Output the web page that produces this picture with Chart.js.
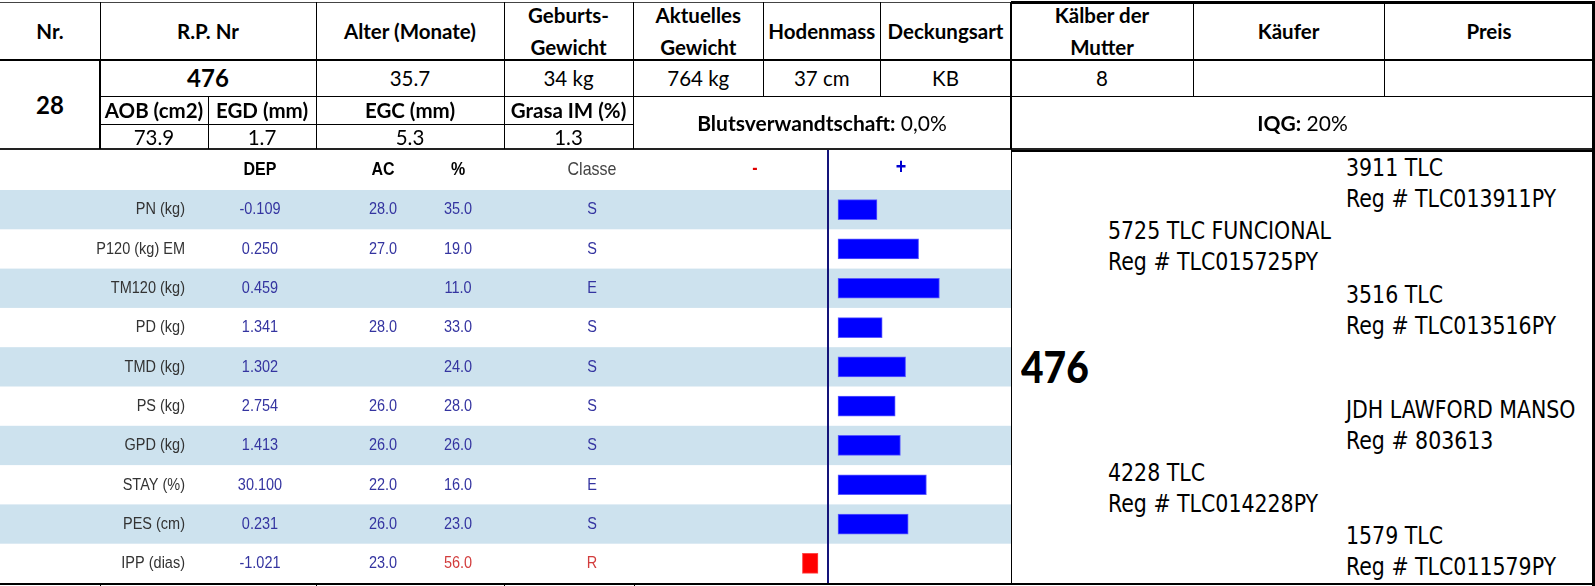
<!DOCTYPE html>
<html lang="de">
<head>
<meta charset="utf-8">
<title>476</title>
<script src="https://cdn.jsdelivr.net/npm/chart.js@4.4.1/dist/chart.umd.min.js"></script>
<style>
  html, body { margin:0; padding:0; background:#fff; }
  body { width:1595px; height:586px; position:relative; overflow:hidden; font-family:Lato, 'Open Sans', sans-serif; color:#000; }
  .c { position:absolute; display:flex; align-items:center; justify-content:center; text-align:center; font-size:20.5px; line-height:32px; white-space:nowrap; }
  .b { font-weight:700; }
  .l { position:absolute; background:#000; }
  .ped { position:absolute; font-family:'DejaVu Sans Condensed','DejaVu Sans',sans-serif; font-stretch:condensed; font-size:22.8px; line-height:22.8px; white-space:nowrap; transform:scaleY(1.06); transform-origin:0 19px; }
  #evalChart { position:absolute; left:0; top:150px; }
</style>
</head>
<body>
<canvas id="evalChart" width="1011" height="433"></canvas>
<script>
// Kopfdaten
const kopfzeile = ['Nr.', 'R.P. Nr', 'Alter (Monate)', 'Geburts-<br>Gewicht', 'Aktuelles<br>Gewicht', 'Hodenmass', 'Deckungsart', 'Kälber der<br>Mutter', 'Käufer', 'Preis'];
const werte = ['', '476', '35.7', '34 kg', '764 kg', '37 cm', 'KB', '8', '', ''];
const losNr = '28';
const schlachtKopf = ['AOB (cm2)', 'EGD (mm)', 'EGC (mm)', 'Grasa IM (%)'];
const schlachtWerte = ['73.9', '1.7', '5.3', '1.3'];
const blut = '0,0%';
const iqg = '20%';

// DEP tabelle
const rasgos = ['PN (kg)', 'P120 (kg) EM', 'TM120 (kg)', 'PD (kg)', 'TMD (kg)', 'PS (kg)', 'GPD (kg)', 'STAY (%)', 'PES (cm)', 'IPP (dias)'];
const dep = ['-0.109', '0.250', '0.459', '1.341', '1.302', '2.754', '1.413', '30.100', '0.231', '-1.021'];
const ac = ['28.0', '27.0', '', '28.0', '', '26.0', '26.0', '22.0', '26.0', '23.0'];
const pct = ['35.0', '19.0', '11.0', '33.0', '24.0', '28.0', '26.0', '16.0', '23.0', '56.0'];
const classe = ['S', 'S', 'E', 'S', 'S', 'S', 'S', 'E', 'S', 'R'];
const desvio = [15, 31, 39, 17, 26, 22, 24, 34, 27, -6];

// Abstammung
const pedigree = [
  ['3911 TLC', 'Reg # TLC013911PY', 2],
  ['5725 TLC FUNCIONAL', 'Reg # TLC015725PY', 1],
  ['3516 TLC', 'Reg # TLC013516PY', 2],
  ['JDH LAWFORD MANSO', 'Reg # 803613', 2],
  ['4228 TLC', 'Reg # TLC014228PY', 1],
  ['1579 TLC', 'Reg # TLC011579PY', 2]
];

// ---- layout helpers
function cell(x1, y1, x2, y2, html, cls, extra) {
  const d = document.createElement('div');
  d.className = 'c ' + (cls || '');
  d.style.left = x1 + 'px'; d.style.top = y1 + 'px';
  d.style.width = (x2 - x1) + 'px'; d.style.height = (y2 - y1) + 'px';
  if (extra) Object.assign(d.style, extra);
  d.innerHTML = html;
  document.body.appendChild(d);
}
function hl(x1, x2, y, w, col) {
  const d = document.createElement('div');
  d.className = 'l';
  d.style.left = x1 + 'px'; d.style.top = (y - w / 2) + 'px';
  d.style.width = (x2 - x1) + 'px'; d.style.height = w + 'px';
  if (col) d.style.background = col;
  document.body.appendChild(d);
}
function vl(x, y1, y2, w, col) {
  const d = document.createElement('div');
  d.className = 'l';
  d.style.left = (x - w / 2) + 'px'; d.style.top = y1 + 'px';
  d.style.width = w + 'px'; d.style.height = (y2 - y1) + 'px';
  if (col) d.style.background = col;
  document.body.appendChild(d);
}

// spalten kopf
const colX = [0, 100, 316, 504, 633, 763.5, 880, 1011, 1193, 1384, 1594];
kopfzeile.forEach((t, i) => cell(colX[i], 2, colX[i + 1], 60, t, 'b'));
werte.forEach((t, i) => {
  if (i === 0) return;
  if (i === 1) cell(colX[i], 60, colX[i + 1], 96, t, 'b', { fontSize: '24px' });
  else cell(colX[i], 60, colX[i + 1], 96, t);
});
cell(0, 60, 100, 149, losNr, 'b', { fontSize: '24px' });
const subX = [100, 208, 316, 504, 633];
schlachtKopf.forEach((t, i) => cell(subX[i], 96, subX[i + 1], 124, t, 'b'));
schlachtWerte.forEach((t, i) => cell(subX[i], 124, subX[i + 1], 149, t));
cell(633, 96, 1011, 149, '<b>Blutsverwandtschaft:</b>&nbsp;' + blut, '', { fontSize: '21px' });
cell(1011, 96, 1594, 149, '<b>IQG:</b>&nbsp;' + iqg, '', { fontSize: '21px' });

// linien
hl(0, 1011, 2, 1, '#444');
hl(1011, 1595, 2, 3);
hl(0, 1595, 60, 2);
hl(100, 1595, 96, 1);
hl(100, 633, 124, 1);
hl(0, 1595, 149, 2, '#222');
[316, 504, 633, 763.5, 880, 1193, 1384].forEach(x => vl(x, 2, 96, 1));
vl(100, 2, 60, 1); vl(100, 60, 149, 2);
vl(1011, 2, 149, 2);
vl(1593.5, 2, 586, 3);
[208, 316, 504, 633].forEach(x => vl(x, 96, 149, 1));

// abstammung box
vl(1011, 149, 584, 1);
hl(1011, 1595, 150.5, 2);
hl(0, 1595, 584, 2);
[100, 316, 504, 634].forEach(x => vl(x, 584, 586, 1));

const nameY = [176, 239, 303, 418, 481, 544];
const pedX = { 1: 1108, 2: 1346 };
pedigree.forEach((p, i) => {
  [p[0], p[1]].forEach((t, k) => {
    const d = document.createElement('div');
    d.className = 'ped';
    d.style.left = pedX[p[2]] + 'px';
    d.style.top = (nameY[i] + k * 31 - 19) + 'px';
    d.textContent = t;
    document.body.appendChild(d);
  });
});
const big = document.createElement('div');
big.className = 'ped';
Object.assign(big.style, { left: '1021px', top: '347.5px', fontFamily: 'Lato, sans-serif', fontWeight: '900', fontSize: '41px', lineHeight: '40px', fontStretch: 'normal', transform: 'scale(0.95,1.05)', transformOrigin: '0 35px' });
big.textContent = werte[1];
document.body.appendChild(big);

// ---- DEP chart
const pxPerUnit = 2.6;
const achse = 828;
const chartW = 1011;
const luecke = 10 / pxPerUnit;

const colDep = 260, colAc = 383, colPct = 458, colCl = 592, colMinus = 755, colPlus = 901;
const blau = '#3434a0', rot = '#d23c3c';
const sans = '"Liberation Sans", Arial, sans-serif';

// text etwas hoeher gezogen wie im original
function txt(ctx, s, x, y, align) {
  ctx.save();
  ctx.textAlign = align || 'center';
  ctx.textBaseline = 'middle';
  ctx.translate(x, y);
  ctx.scale(1, 1.2);
  ctx.fillText(s, 0, 0);
  ctx.restore();
}

const tablePlugin = {
  id: 'tablePlugin',
  beforeDatasetsDraw(chart) {
    const { ctx, scales: { y } } = chart;
    const step = (chart.chartArea.bottom - chart.chartArea.top) / rasgos.length;
    ctx.save();
    rasgos.forEach((r, i) => {
      if (i % 2 === 0) {
        const yc = y.getPixelForValue(i);
        ctx.fillStyle = '#cde2ee';
        ctx.fillRect(0, yc - step / 2, chart.width, step);
      }
    });
    ctx.restore();
  },
  afterDatasetsDraw(chart) {
    const { ctx, scales: { y, x } } = chart;
    ctx.save();
    // null-linie
    const x0 = x.getPixelForValue(0);
    ctx.strokeStyle = '#14147a';
    ctx.lineWidth = 2;
    ctx.beginPath();
    ctx.moveTo(x0, 0);
    ctx.lineTo(x0, chart.height);
    ctx.stroke();

    // kopf
    ctx.fillStyle = '#000';
    ctx.font = 'bold 16px ' + sans;
    txt(ctx, 'DEP', colDep, 20);
    txt(ctx, 'AC', colAc, 20);
    txt(ctx, '%', colPct, 20);
    ctx.font = '16px ' + sans;
    ctx.fillStyle = '#444';
    txt(ctx, 'Classe', colCl, 20);
    ctx.font = 'bold 16px ' + sans;
    ctx.fillStyle = '#e00000';
    txt(ctx, '-', colMinus, 19);
    ctx.font = 'bold 18px ' + sans;
    ctx.fillStyle = '#0000d0';
    txt(ctx, '+', colPlus, 18);

    // zeilen
    ctx.font = '14.5px ' + sans;
    rasgos.forEach((r, i) => {
      const yc = y.getPixelForValue(i);
      ctx.fillStyle = '#333';
      txt(ctx, r, 185, yc, 'right');
      ctx.fillStyle = blau;
      txt(ctx, dep[i], colDep, yc);
      txt(ctx, ac[i], colAc, yc);
      ctx.fillStyle = classe[i] === 'R' ? rot : blau;
      txt(ctx, pct[i], colPct, yc);
      txt(ctx, classe[i], colCl, yc);
    });
    ctx.restore();
  }
};

new Chart(document.getElementById('evalChart'), {
  type: 'bar',
  data: {
    labels: rasgos,
    datasets: [{
      data: desvio.map(v => v > 0 ? [luecke, luecke + v] : [v - luecke, -luecke]),
      backgroundColor: desvio.map(v => v > 0 ? '#0000ff' : '#ff0000'),
      borderColor: desvio.map(v => v > 0 ? '#5a5aff' : '#ff4a4a'),
      borderWidth: 1,
      borderSkipped: false,
      barThickness: 20
    }]
  },
  options: {
    indexAxis: 'y',
    responsive: false,
    animation: false,
    layout: { padding: { top: 40, left: 0, right: 0, bottom: 0 } },
    plugins: { legend: { display: false }, tooltip: { enabled: false } },
    scales: {
      x: { display: false, min: -achse / pxPerUnit, max: (chartW - achse) / pxPerUnit },
      y: { display: false }
    }
  },
  plugins: [tablePlugin]
});
</script>
</body>
</html>
